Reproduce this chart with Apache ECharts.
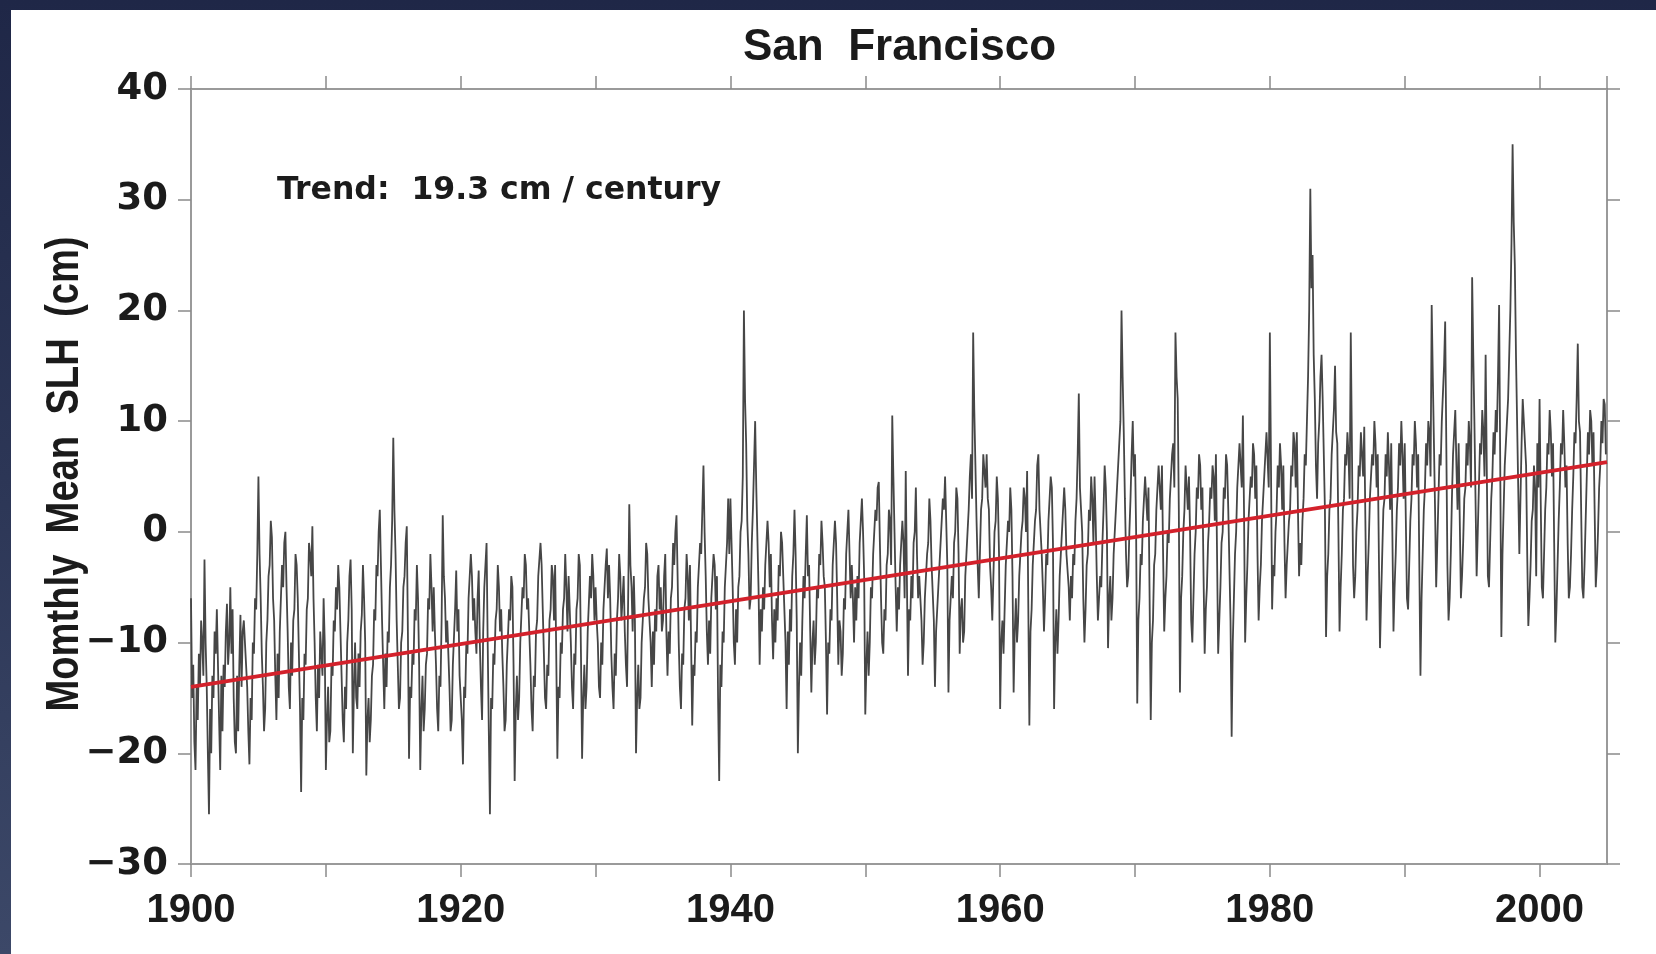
<!DOCTYPE html>
<html>
<head>
<meta charset="utf-8">
<script src="https://cdn.jsdelivr.net/npm/echarts@6/dist/echarts.min.js"></script>
<style>
  html, body { margin: 0; padding: 0; }
  body { width: 1656px; height: 954px; overflow: hidden;
         background: linear-gradient(to bottom, #1f2747 0%, #2c3656 50%, #3c4868 100%); position: relative; }
  #panel { position: absolute; left: 11px; top: 10px; right: 0; bottom: 0; background: #ffffff; }
  #chart { position: absolute; left: 0; top: 0; width: 1656px; height: 954px; }
</style>
</head>
<body>
<div id="panel"></div>
<div id="chart"></div>
<script>
// Monthly mean sea level height (cm), one row per year (Jan..Dec)
const startYear = 1900;
const samplesPerYear = 12;
const slh1900s = [
  -6, -15, -12, -19, -21.5, -14, -17, -11, -14, -8, -10, -13,
  -2.5, -10, -14, -20, -25.5, -16, -20, -13, -15, -9, -11, -7,
  -12, -17, -21.5, -13, -18, -12, -14, -9, -6.5, -12, -10, -5,
  -11, -7, -15, -19, -20, -13, -18, -12, -7.5, -14, -9, -8,
  -8, -12, -14, -18, -21, -15, -17, -10, -11, -6, -7, -2,
  5, -2, -6, -11, -14, -18, -16, -10, -8, -4, -3, 1,
  -0.5, -6, -8, -13, -17, -11, -15, -9, -9, -3, -5, -1,
  0, -5, -9, -14, -16, -10, -13, -8, -7, -2, -3, -6,
  -6, -16, -23.5, -15, -17, -11, -12, -7, -6, -1, -2, -4,
  0.5, -6, -10, -15, -18, -12, -15, -9, -9, -13, -6, -10
];
const slh1910s = [
  -21.5, -17, -14, -19, -18, -12, -13, -8, -9, -5, -7, -3,
  -5, -9, -13, -17, -19, -14, -16, -10, -8, -4, -2.5, -7,
  -20, -14, -10, -15, -16, -11, -14, -9, -7.5, -3, -6, -10,
  -22, -17, -15, -19, -17, -13, -12, -7, -8, -3, -4, 0,
  2, -3, -8, -12, -16, -11, -14, -9, -10, -5, -3, 1,
  8.5, 2, -2, -8, -12, -16, -15, -10, -9, -5, -4, -1,
  0.5, -9, -20.5, -14, -15, -11, -12, -7, -8, -3, -6, -12,
  -21.5, -16, -13, -18, -16, -12, -11, -6, -7, -2, -5, -9,
  -5, -9, -12, -16, -18, -13, -14, -8, 1.5, -4, -6, -10,
  -8, -11, -14, -18, -17, -12, -12, -7, -3.5, -9, -7, -13
];
const slh1920s = [
  -13, -17, -21, -14, -15, -10, -11, -6, -6, -2, -4, -8,
  -6, -9, -11, -6, -3.5, -10, -14, -17, -9, -5, -5, -1,
  -10, -18, -25.5, -15, -16, -11, -12, -8, -7, -3, -5, -9,
  -7, -11, -14, -18, -17, -12, -12, -7, -8, -4, -5, -12,
  -22.5, -16, -13, -17, -15, -10, -10, -5, -6, -2, -3, -7,
  -6, -9, -12, -16, -18, -13, -14, -9, -8, -4, -4, -1,
  -3, -7, -11, -15, -16, -12, -13, -8, -7, -3, -4, -8,
  -3, -11, -20.5, -14, -15, -10, -11, -7, -6, -2, -5, -9,
  -4, -7, -10, -14, -16, -11, -12, -7, -6, -2, -3, -11,
  -20.5, -15, -12, -16, -14, -9, -9, -4, -6, -2, -4, -8
];
const slh1930s = [
  -5, -8, -10, -14, -15, -10, -12, -7, -7, -3, -1.5, -6,
  -3, -6, -11, -14, -16, -11, -13, -8, -6, -2, -4, -8,
  -6, -4, -9, -12, -14, -6, 2.5, -3, -5, -9, -4, -8,
  -20, -15, -12, -16, -15, -10, -10, -6, -5, -1, -2, -6,
  -6, -10, -14, -9, -12, -7, -9, -4, -3, -7, -5, -9,
  -8, -4, -2, -9, -13, -9, -11, -6, -5, -1, -3, 0,
  1.5, -4, -10, -14, -16, -11, -12, -7, -6, -2, -4, -8,
  -3, -10, -17.5, -12, -13, -9, -10, -5, -5, -1, -2, 2,
  6, 0, -4, -9, -12, -8, -11, -6, -6, -2, -3, -7,
  -4, -15, -22.5, -12, -14, -9, -10, -5, -5, -1, 3, -2
];
const slh1940s = [
  3, -1, -5, -10, -12, -7, -10, -5, -4, 0, 1, 5,
  20, 12, 8, 1, -2, -7, -6, -1, 2, 6, 10, 4,
  4, -5, -12, -7, -9, -5, -7, -3, -3, 1, -1, -5,
  -2, -8, -11.5, -7, -10, -6, -8, -3, -4, 0, -1, -4,
  -4, -10, -16, -9, -12, -7, -9, -4, -2, 2, -2, -8,
  -20, -14, -10, -13, -8, -4, -6, -2, 1.5, -4, -3, -9,
  -14.5, -10, -8, -12, -10, -5, -6, -2, -3, 1, -1, -4,
  -5, -10, -16.5, -10, -11, -7, -8, -3, -3, 1, -1, -6,
  -12, -8, -9, -13, -11, -6, -7, -2, -2, 2, -2, -6,
  -3, -6, -10, -5, -8, -4, -6, -1, -1, 3, 0, -4
];
const slh1950s = [
  -16.5, -12, -9, -13, -10, -5, -6, -2, -2, 2, 1, 4,
  4.5, -1, -6, -10, -11, -7, -8, -3, -2, 2, 1, -3,
  10.5, 5, 0, -5, -9, -5, -7, -3, -3, 1, -1, -6,
  5.5, -4, -13, -7, -8, -4, -6, -1, 0, 4, -2, -6,
  -4, -6, -8, -12, -10, -6, -6, -2, -1, 3, 1, -3,
  -3, -8, -14, -9, -9, -5, -5, -1, -1, 3, 2, 5,
  5, -3, -14.5, -8, -8, -4, -6, -1, 0, 4, 3, -2,
  -11, -7, -6, -10, -9, -4, -4, 0, 2, 5, 7, 3,
  18, 11, 6, 1, -3, -6, -2, 2, 3, 7, 7, 4,
  7, 3, 2, -3, -5, -8, -4, 0, 1, 5, 3, -2
];
const slh1960s = [
  -16, -10, -8, -11, -7, -3, -3, 1, 0, 4, 2, -4,
  -14.5, -9, -6, -10, -8, -4, -4, 0, 1, 4, 3, 0,
  5.5, -6, -17.5, -9, -7, -3, -3, 1, 2, 6, 7, 2,
  2, -2, -5, -9, -6, -2, -3, 1, 1, 5, 4, -1,
  -16, -10, -7, -11, -8, -4, -4, 0, 0, 4, 2, -2,
  -2, -5, -8, -4, -6, -2, -3, 1, 3, 7, 12.5, 4,
  4, 0, -6, -10, -7, -3, -2, 2, 1, 5, 3, -1,
  5, 1, -4, -8, -8, -4, -5, -1, 2, 6, 4, 0,
  -10.5, -6, -4, -8, -6, -2, -2, 2, 2, 6, 6, 10,
  20, 14, 9, 3, -2, -5, -4, 0, 3, 7, 10, 5
];
const slh1970s = [
  7, 0, -15.5, -8, -6, -2, -3, 1, 1, 5, 5, 1,
  4, -6, -17, -10, -8, -3, -2, 2, 2, 6, 6, 2,
  6, -2, -9, -6, -4, 0, -1, 3, 3, 7, 8, 4,
  18, 14, 12, 2, -14.5, -6, -4, 0, 2, 6, 6, 2,
  5, 0, -8, -10, -6, -2, 0, 4, 3, 7, 6, 2,
  4, -4, -11, -7, -5, -1, 1, 4, 3, 6, 5, 1,
  7, -2, -11, -8, -5, -1, 0, 4, 3, 7, 6, 2,
  2, -8, -18.5, -10, -6, -2, 0, 4, 4, 8, 8, 4,
  10.5, 2, -10, -6, -3, 1, 1, 5, 4, 8, 7, 3,
  6, -2, -8, -5, -3, 1, 1, 5, 5, 9, 9, 4
];
const slh1980s = [
  18, 6, -7, -3, -4, 0, 2, 6, 4, 8, 6, 2,
  6, -1, -6, -3, -3, 1, 2, 6, 5, 9, 8, 4,
  9, 2, -4, -1, -3, 1, 3, 7, 6, 10, 14, 20,
  31, 22, 25, 16, 12, 6, 3, 8, 10, 14, 16, 12,
  12, 2, -9.5, -4, -2, 2, 3, 7, 7, 11, 15, 9,
  8, 0, -9, -5, -2, 2, 3, 7, 6, 9, 7, 3,
  18, 8, -3, -6, -4, 0, 2, 6, 5, 9, 9, 5,
  9.5, 1, -8, -4, -1, 3, 3, 7, 6, 10, 8, 4,
  7, -2, -10.5, -6, -2, 2, 3, 7, 5, 9, 6, 2,
  8, 0, -9, -5, -2, 2, 4, 8, 6, 10, 7, 3
];
const slh1990s = [
  8, 1, -6, -7, -3, 1, 3, 7, 6, 10, 8, 4,
  7, -3, -13, -6, -2, 2, 4, 8, 6, 10, 9, 5,
  20.5, 14, 8, 2, -5, -1, 3, 7, 6, 10, 10, 15,
  19, 8, -3, -8, -6, -2, 3, 7, 7, 11, 6, 2,
  8, 1, -6, -4, -1, 3, 4, 8, 6, 10, 8, 4,
  23, 16, 10, 3, -4, 0, 4, 8, 7, 11, 9, 5,
  16, 6, -4, -5, -1, 3, 5, 9, 7, 11, 9, 14,
  20.5, 6, -9.5, -2, 2, 6, 6, 10, 12, 16, 20, 26,
  35, 28, 24, 16, 10, 4, -2, 3, 8, 12, 12, 8,
  6, -2, -8.5, -6, -3, 1, 2, 6, 4, -4, 8, 4
];
const slh2000s = [
  12, 3, -5, -6, -2, 2, 4, 8, 7, 11, 9, 5,
  8, -1, -10, -7, -3, 1, 4, 8, 7, 11, 8, 4,
  6, -1, -6, -5, -2, 2, 5, 9, 8, 12, 17, 10,
  9, 2, -5, -6, -3, 1, 5, 9, 7, 11, 10, 6,
  9, 2, -5, -3, 0, 4, 6, 10, 8, 12, 11.5, 7
];

// Linear trend (19.3 cm / century)
const trendYears = [1900, 2005];
const trendValues = [-14.0, 6.3];

// Axis ticks
const xTickLabels = [1900, 1920, 1940, 1960, 1980, 2000];
const yTickLabels = [-30, -20, -10, 0, 10, 20, 30, 40];

const allSlh = [].concat(slh1900s, slh1910s, slh1920s, slh1930s, slh1940s,
                         slh1950s, slh1960s, slh1970s, slh1980s, slh1990s, slh2000s);
const slhData = allSlh.map((v, i) => [startYear + i / samplesPerYear, v]);
const trendData = trendYears.map((y, i) => [y, trendValues[i]]);

const axisLineStyle = { color: '#9a9a9a', width: 2 };
const tickStyle = { color: '#8a8a8a', width: 1.5 };

const chart = echarts.init(document.getElementById('chart'), null, { renderer: 'canvas' });
chart.setOption({
  backgroundColor: 'transparent',
  animation: false,
  title: {
    text: 'San  Francisco',
    left: 743, top: 26, padding: 0,
    textStyle: { fontFamily: 'Liberation Sans, Arial, sans-serif', fontWeight: 'bold', fontSize: 44, color: '#1b1b1b' }
  },
  graphic: [{
    type: 'text', left: 277, top: 175,
    style: { text: 'Trend:  19.3 cm / century', font: 'bold 31.5px "DejaVu Sans"', fill: '#1b1b1b' }
  }, {
    type: 'text', x: 65, y: 474, rotation: Math.PI / 2, scaleX: 0.83,
    style: { text: 'Momthly  Mean  SLH  (cm)', font: 'bold 46px "Liberation Sans", Arial, sans-serif',
             fill: '#1b1b1b', align: 'center', verticalAlign: 'middle' }
  }],
  grid: { left: 191, right: 49, top: 89, bottom: 90, containLabel: false },
  xAxis: [{
    type: 'value', position: 'bottom', min: 1900, max: 2005, interval: 10,
    axisLine: { show: true, onZero: false, lineStyle: axisLineStyle },
    axisTick: { show: true, length: 13, lineStyle: tickStyle },
    splitLine: { show: false },
    axisLabel: {
      margin: 27, showMaxLabel: false,
      fontFamily: 'Liberation Sans, Arial, sans-serif', fontWeight: 'bold', fontSize: 40, color: '#1b1b1b',
      formatter: v => (xTickLabels.indexOf(v) >= 0 ? String(v) : '')
    }
  }, {
    type: 'value', position: 'top', min: 1900, max: 2005, interval: 10,
    axisLine: { show: true, onZero: false, lineStyle: axisLineStyle },
    axisTick: { show: true, length: 13, lineStyle: tickStyle },
    splitLine: { show: false }, axisLabel: { show: false }
  }],
  yAxis: [{
    type: 'value', position: 'left', min: -30, max: 40, interval: 10,
    axisLine: { show: true, onZero: false, lineStyle: axisLineStyle },
    axisTick: { show: true, length: 13, lineStyle: tickStyle },
    splitLine: { show: false },
    axisLabel: {
      margin: 23,
      fontFamily: '"DejaVu Sans", sans-serif', fontWeight: 'bold', fontSize: 37, color: '#1b1b1b',
      formatter: v => (yTickLabels.indexOf(v) >= 0 ? String(v).replace('-', '\u2212') : '')
    }
  }, {
    type: 'value', position: 'right', min: -30, max: 40, interval: 10,
    axisLine: { show: true, onZero: false, lineStyle: axisLineStyle },
    axisTick: { show: true, length: 13, lineStyle: tickStyle },
    splitLine: { show: false }, axisLabel: { show: false }
  }],
  series: [{
    name: 'Monthly mean SLH', type: 'line', xAxisIndex: 0, yAxisIndex: 0,
    data: slhData, showSymbol: false, symbol: 'none',
    lineStyle: { color: '#464646', width: 1.8 }, z: 2
  }, {
    name: 'Trend', type: 'line', xAxisIndex: 0, yAxisIndex: 0,
    data: trendData, showSymbol: false, symbol: 'none',
    lineStyle: { color: '#d3212b', width: 4 }, z: 3
  }]
});
</script>
</body>
</html>
